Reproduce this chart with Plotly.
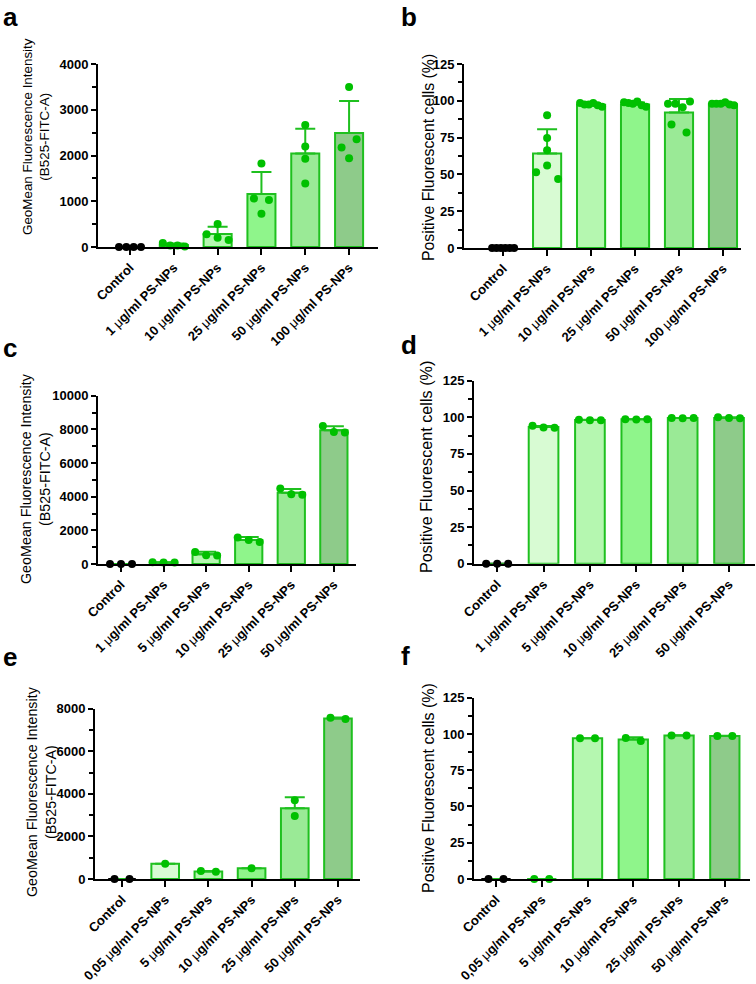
import plotly.graph_objects as go

# ---------------- data ----------------
MU = "<span style='font-weight:normal'>\u03bc</span>"
labels_a = ["Control", f"1 {MU}g/ml PS-NPs", f"10 {MU}g/ml PS-NPs", f"25 {MU}g/ml PS-NPs",
            f"50 {MU}g/ml PS-NPs", f"100 {MU}g/ml PS-NPs"]
labels_c = ["Control", f"1 {MU}g/ml PS-NPs", f"5 {MU}g/ml PS-NPs", f"10 {MU}g/ml PS-NPs",
            f"25 {MU}g/ml PS-NPs", f"50 {MU}g/ml PS-NPs"]
labels_e = ["Control", f"0,05 {MU}g/ml PS-NPs", f"5 {MU}g/ml PS-NPs", f"10 {MU}g/ml PS-NPs",
            f"25 {MU}g/ml PS-NPs", f"50 {MU}g/ml PS-NPs"]

a_mean = [0, 45, 282, 1160, 2045, 2490]
a_sd = [None, 30, 160, 480, 540, 700]
a_pts = [[0, 0, 0, 0], [85, 35, 35, 10], [278, 503, 203, 153], [1060, 1825, 728, 1028],
         [2668, 2196, 1927, 1389], [3497, 2174, 2356, 1941]]

b_mean = [0, 64.2, 97.3, 97.5, 92.0, 97.6]
b_sd = [None, 16.5, 1.0, 1.3, 9.2, 0.8]
b_pts = [[0, 0, 0, 0, 0, 0], [90.2, 74.8, 66.4, 51.4, 56.1, 46.8],
         [98.5, 97.5, 97.5, 98.5, 97.0, 96.0], [99.0, 98.5, 98.0, 99.5, 97.0, 96.0],
         [98.0, 98.0, 95.7, 99.5, 83.9, 78.4], [98.0, 98.0, 98.0, 99.0, 97.5, 97.0]]

c_mean = [0, 95, 580, 1430, 4240, 7950]
c_sd = [None, 5, 150, 170, 220, 240]
c_pts = [[0, 0, 0], [100, 95, 90], [720, 520, 500], [1580, 1430, 1300],
         [4480, 4150, 4120], [8200, 7850, 7810]]

d_mean = [0, 93.4, 98.1, 98.6, 99.5, 99.6]
d_sd = [None, 0.7, 0.3, 0.1, 0.1, 0.4]
d_pts = [[0, 0, 0], [94.3, 93.1, 92.9], [98.4, 97.9, 97.9], [98.6, 98.5, 98.6],
         [99.5, 99.4, 99.5], [100.0, 99.5, 99.3]]

e_mean = [0, 720, 350, 500, 3320, 7540]
e_sd = [None, None, 23, None, 520, 45]
e_pts = [[0, 0], [720], [376, 344], [500], [3696, 2960], [7580, 7516]]

f_mean = [0, 0, 97.0, 96.2, 99.0, 98.6]
f_sd = [None, None, 0.1, 1.5, 0.1, 0.1]
f_pts = [[0, 0], [0, 0], [97.0, 97.0], [97.2, 95.1], [99.0, 99.0], [98.6, 98.6]]

# ---------------- styling / layout ----------------
W, H = 756, 984
FONT = "Liberation Sans, Arial, sans-serif"
FILLS = ['#ffffff', '#d8fbd3', '#b5f7b0', '#8ff58b', '#9aea96', '#8ecb8a']
EDGE = '#1fc01f'
DOT = '#00c000'
YT1 = "GeoMean Fluorescence Intensity<br>(B525-FITC-A)"
YT2 = "Positive Fluorescent cells (%)"

panels = [
    dict(k='a', lab=labels_a, m=a_mean, sd=a_sd, p=a_pts, l=98, r=378, t=64, b=247, xr=[-0.73, 5.66], ym=4000, dt=1000, yt=YT1, ts=13.4, tx=36, ty=137, lx=1, ly=17),
    dict(k='b', lab=labels_a, m=b_mean, sd=b_sd, p=b_pts, l=464, r=741, t=64, b=248, xr=[-0.89, 5.41], ym=125, dt=25, yt=YT2, ts=15.8, tx=428, ty=158, lx=399, ly=17),
    dict(k='c', lab=labels_c, m=c_mean, sd=c_sd, p=c_pts, l=98, r=356, t=395.7, b=564, xr=[-0.54, 5.52], ym=10000, dt=2000, yt=YT1, ts=14.3, tx=35, ty=479, lx=1, ly=348),
    dict(k='d', lab=labels_c, m=d_mean, sd=d_sd, p=d_pts, l=474, r=755, t=380.7, b=563.7, xr=[-0.50, 5.56], ym=125, dt=25, yt=YT2, ts=16.2, tx=426, ty=467, lx=399, ly=345),
    dict(k='e', lab=labels_e, m=e_mean, sd=e_sd, p=e_pts, l=95, r=360, t=708.7, b=879, xr=[-0.625, 5.51], ym=8000, dt=2000, yt=YT1, ts=14.3, tx=41, ty=792, lx=1, ly=657),
    dict(k='f', lab=labels_e, m=f_mean, sd=f_sd, p=f_pts, l=474, r=750, t=697.7, b=879, xr=[-0.48, 5.55], ym=125, dt=25, yt=YT2, ts=16.0, tx=428, ty=788, lx=399, ly=656),
]


def swarm(vals, ppu, ppc, thr=9, span=22, maxd=15):
    n = len(vals)
    order = sorted(range(n), key=lambda i: vals[i])
    clusters, cur = [], [order[0]]
    for i in order[1:]:
        if abs(vals[i] - vals[cur[-1]]) * ppu < thr:
            cur.append(i)
        else:
            clusters.append(cur)
            cur = [i]
    clusters.append(cur)
    offs = [0.0] * n
    for c in clusters:
        c = sorted(c)
        mm = len(c)
        if mm > 1:
            d = min(maxd, span / (mm - 1))
            for j, i in enumerate(c):
                offs[i] = (j - (mm - 1) / 2) * d / ppc
    return offs


fig = go.Figure()
annotations = []
for n, P in enumerate(panels, start=1):
    xa = 'x' if n == 1 else f'x{n}'
    ya = 'y' if n == 1 else f'y{n}'
    cats = list(range(len(P['m'])))
    ppu = (P['b'] - P['t']) / P['ym']
    ppc = (P['r'] - P['l']) / (P['xr'][1] - P['xr'][0])
    sd_arr = [s if s is not None else float('nan') for s in P['sd']]
    fig.add_trace(go.Bar(
        x=cats, y=P['m'], width=0.64, xaxis=xa, yaxis=ya,
        marker=dict(color=FILLS, line=dict(color=['#000000'] + [EDGE] * 5, width=2)),
        error_y=dict(type='data', array=sd_arr, arrayminus=[0] * len(cats), symmetric=False,
                     color=EDGE, thickness=2, width=10),
        showlegend=False, hoverinfo='skip'))
    for ci, pts in enumerate(P['p']):
        offs = swarm(pts, ppu, ppc)
        fig.add_trace(go.Scatter(
            x=[ci + o for o in offs], y=pts, mode='markers', xaxis=xa, yaxis=ya,
            marker=dict(size=8, color='#000000' if ci == 0 else DOT, line=dict(width=0)),
            cliponaxis=False, showlegend=False, hoverinfo='skip'))

    xkey = 'xaxis' if n == 1 else f'xaxis{n}'
    ykey = 'yaxis' if n == 1 else f'yaxis{n}'
    fig.layout[xkey] = dict(
        domain=[P['l'] / W, P['r'] / W], range=P['xr'], anchor=ya, automargin=False,
        tickmode='array', tickvals=cats, ticktext=P['lab'], tickangle=-45,
        ticks='outside', ticklen=6, tickwidth=2, tickcolor='black',
        showline=True, linewidth=2, linecolor='black', showgrid=False, zeroline=False,
        tickfont=dict(family=FONT, size=13, color='black', weight='bold'), fixedrange=True)
    fig.layout[ykey] = dict(
        domain=[1 - P['b'] / H, 1 - P['t'] / H], range=[0, P['ym']], anchor=xa, automargin=False,
        tickmode='linear', tick0=0, dtick=P['dt'], tickformat='d',
        ticks='outside', ticklen=5, tickwidth=2, tickcolor='black',
        minor=dict(dtick=P['dt'] / 2, tick0=0, ticks='outside', ticklen=4, tickwidth=2,
                   tickcolor='black', showgrid=False),
        showline=True, linewidth=2, linecolor='black', showgrid=False, zeroline=False,
        tickfont=dict(family=FONT, size=13, color='black', weight='bold'), fixedrange=True)
    annotations.append(dict(
        text=P['yt'], textangle=-90, x=P['tx'] / W, y=1 - P['ty'] / H, xref='paper', yref='paper',
        xanchor='center', yanchor='middle', showarrow=False,
        font=dict(family=FONT, size=P['ts'], color='black')))
    annotations.append(dict(
        text=f"<b>{P['k']}</b>", x=P['lx'] / W, y=1 - P['ly'] / H, xref='paper', yref='paper',
        xanchor='left', yanchor='middle', showarrow=False,
        font=dict(family=FONT, size=26, color='black')))

fig.update_layout(
    template='none',
    width=W, height=H, margin=dict(l=0, r=0, t=0, b=0, autoexpand=False),
    paper_bgcolor='white', plot_bgcolor='white', bargap=0,
    annotations=annotations, font=dict(family=FONT, color='black'))

fig.write_html("out.html", config={'displayModeBar': False, 'staticPlot': True},
               post_script="document.body.style.margin='0px';document.body.style.padding='0px';")
